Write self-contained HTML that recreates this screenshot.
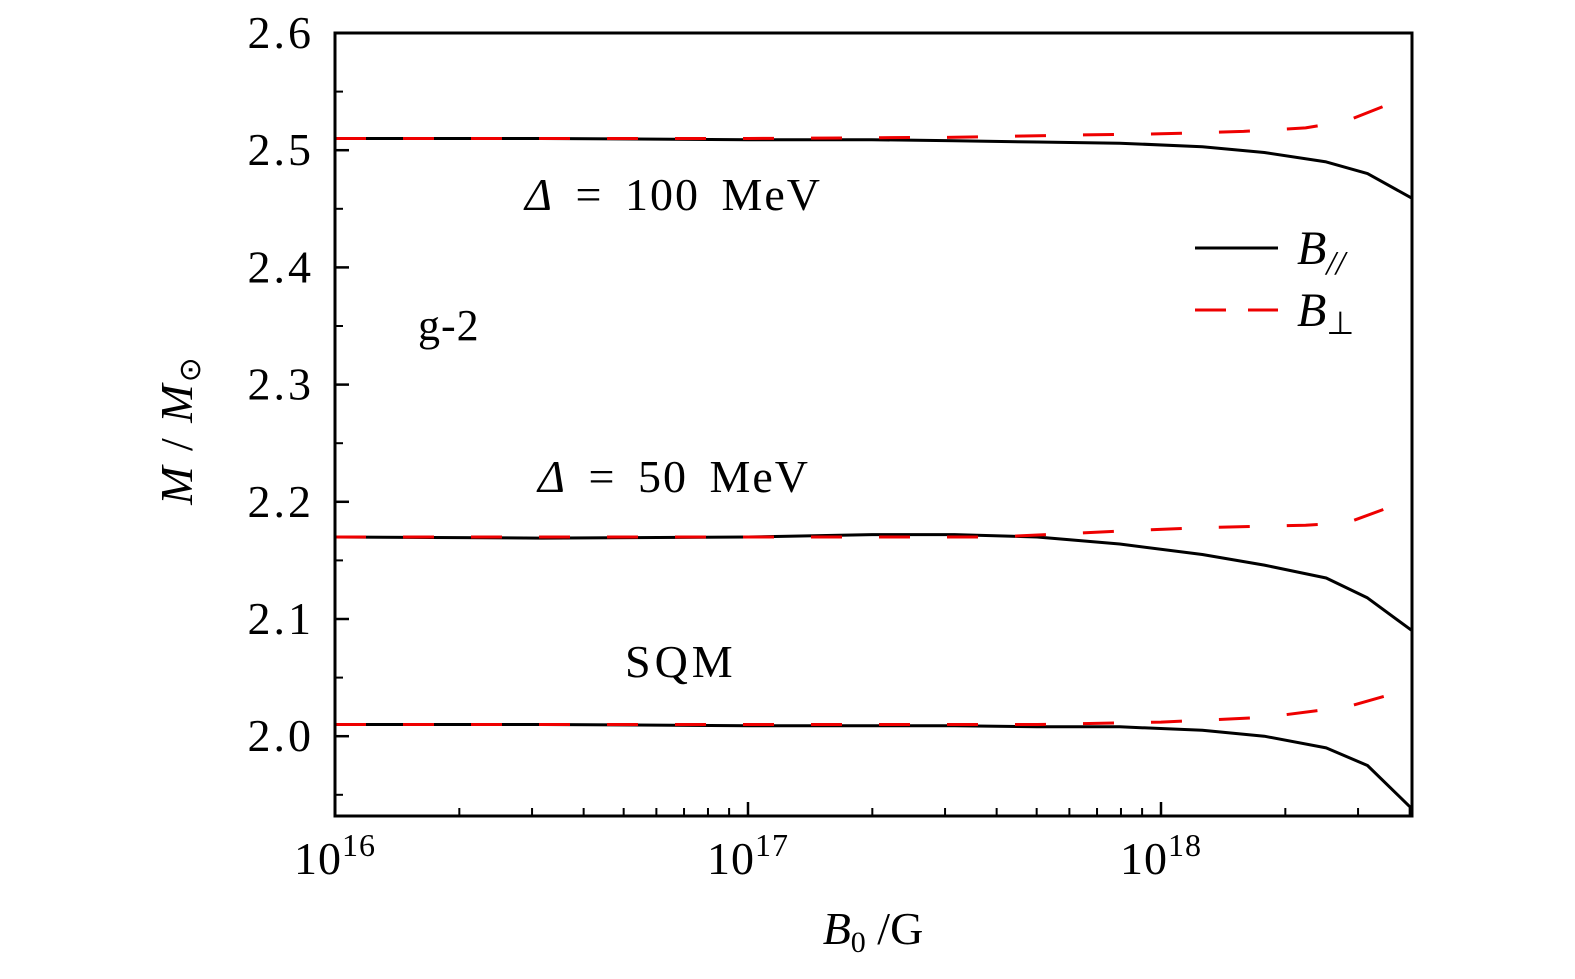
<!DOCTYPE html>
<html><head><meta charset="utf-8"><style>
body{margin:0;background:#fff}
svg text{font-family:"Liberation Serif",serif;fill:#000}
</style></head><body>
<svg id="chart" width="1575" height="974">
<g id="axes"></g><g id="series"></g>
<rect x="335" y="33" width="1077" height="783" fill="none" stroke="#000" stroke-width="3"/>
<text x="525" y="210" font-size="46" letter-spacing="2" word-spacing="8"><tspan font-style="italic">Δ</tspan> = 100 MeV</text>
<text x="418" y="340" font-size="44" letter-spacing="1">g-2</text>
<text x="538" y="492" font-size="46" letter-spacing="2" word-spacing="8"><tspan font-style="italic">Δ</tspan> = 50 MeV</text>
<text x="625" y="677" font-size="46" letter-spacing="4">SQM</text>
<g>
<line x1="1195" y1="248" x2="1278" y2="248" stroke="#000" stroke-width="3"/>
<text x="1297" y="264" font-size="48" font-style="italic">B<tspan font-size="34" dy="10">//</tspan></text>
<line x1="1195" y1="310" x2="1278" y2="310" stroke="#e00" stroke-width="3" stroke-dasharray="31,22"/>
<text x="1297" y="326" font-size="48" font-style="italic">B<tspan font-size="32" dy="8" font-style="normal">⊥</tspan></text>
</g>
<text transform="translate(192,430) rotate(-90)" text-anchor="middle" font-size="46" letter-spacing="2"><tspan font-style="italic">M</tspan> / <tspan font-style="italic">M</tspan><tspan font-size="30" dy="8">⊙</tspan></text>
<text x="873" y="944" text-anchor="middle" font-size="46"><tspan font-style="italic">B</tspan><tspan font-size="30" dy="8">0</tspan><tspan dy="-8"> /G</tspan></text>
</svg>
<script>
const xTicks=[16,17,18];
const yTicks=[2.0,2.1,2.2,2.3,2.4,2.5,2.6];
const logB=[16,16.5,17,17.3,17.5,17.7,17.9,18.1,18.25,18.4,18.5,18.608];
const d100Par=[2.51,2.51,2.509,2.509,2.508,2.507,2.506,2.503,2.498,2.49,2.48,2.459];
const d100PerpX=[16,16.5,17,17.5,17.8,18.0,18.2,18.35,18.45,18.55];
const d100Perp=[2.51,2.51,2.51,2.511,2.513,2.514,2.516,2.519,2.525,2.539];
const d50Par=[2.17,2.169,2.17,2.172,2.172,2.17,2.164,2.155,2.146,2.135,2.118,2.09];
const d50PerpX=[16,16.5,17,17.3,17.6,17.9,18.1,18.35,18.45,18.55];
const d50Perp=[2.17,2.17,2.17,2.17,2.17,2.175,2.178,2.18,2.182,2.195];
const sqmPar=[2.01,2.01,2.009,2.009,2.009,2.008,2.008,2.005,2.0,1.99,1.975,1.938];
const sqmPerpX=[16,16.5,17,17.5,17.7,18.0,18.25,18.45,18.55];
const sqmPerp=[2.01,2.01,2.01,2.01,2.01,2.012,2.016,2.025,2.035];
const NS="http://www.w3.org/2000/svg";
const X=l=>335+(l-16)*413;
const Y=v=>33+(2.6-v)*1172;
function mk(t,a,p){const e=document.createElementNS(NS,t);for(const k in a)e.setAttribute(k,a[k]);p.appendChild(e);return e;}
const ax=document.getElementById('axes'),se=document.getElementById('series');
xTicks.forEach(t=>{
 const x=X(t);
 const tk=mk('line',{x1:x,y1:816,x2:x,y2:802,stroke:'#000','stroke-width':2.5},ax);
 
 
 const tx=mk('text',{x:x,y:874,'text-anchor':'middle','font-size':46,'letter-spacing':1},ax);
 
 
 tx.innerHTML='10<tspan font-size="32" dy="-18">'+t+'</tspan>';
 for(let m=2;m<10;m++){const lx=t+Math.log10(m);if(X(lx)>1412)break;
  const mt=mk('line',{x1:X(lx),y1:816,x2:X(lx),y2:808,stroke:'#000','stroke-width':2},ax);
  
  }
});
yTicks.forEach(v=>{
 const y=Y(v);
 const tk=mk('line',{x1:335,y1:y,x2:349,y2:y,stroke:'#000','stroke-width':2.5},ax);
 
 
 const tx=mk('text',{x:314,y:y+15,'text-anchor':'end','font-size':46,'letter-spacing':3},ax);
 
 
 tx.textContent=v.toFixed(1);
 const mv=v-0.05;if(Y(mv)<816){
 const mt=mk('line',{x1:335,y1:Y(mv),x2:343,y2:Y(mv),stroke:'#000','stroke-width':2},ax);
 
 }
});
function line(xs,ys,dash,name){
 const d=xs.map((l,i)=>(i?'L':'M')+X(l).toFixed(1)+','+Y(ys[i]).toFixed(1)).join(' ');
 const p=mk('path',{d:d,fill:'none',stroke:dash?'#e00':'#000','stroke-width':3,'stroke-dasharray':dash?'31,37':'none','stroke-linejoin':'round'},se);
 
 
}
line(logB,d100Par,false,'line-delta100-parallel');
line(logB,d50Par,false,'line-delta50-parallel');
line(logB,sqmPar,false,'line-sqm-parallel');
line(d100PerpX,d100Perp,true,'line-delta100-perp');
line(d50PerpX,d50Perp,true,'line-delta50-perp');
line(sqmPerpX,sqmPerp,true,'line-sqm-perp');
</script>
</body></html>
